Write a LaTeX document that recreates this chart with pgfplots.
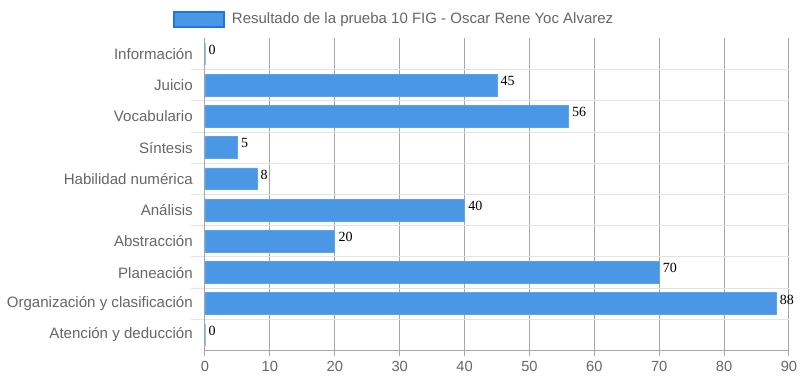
\documentclass[border=0pt]{standalone}
\usepackage{pgfplots}
\pgfplotsset{compat=1.18}
\usepackage{fontspec}
\setmainfont{Liberation Sans}
\newfontfamily\serifvals{Liberation Serif}
\definecolor{barblue}{HTML}{4A97E6}
\definecolor{baredge}{HTML}{5DA3EA}
\definecolor{legedge}{HTML}{1F75DD}
\definecolor{txtgrey}{HTML}{666666}
\definecolor{vgrid}{HTML}{A6A6A6}
\definecolor{hgrid}{HTML}{E3E3E3}
\begin{document}
\begin{tikzpicture}[x=1pt,y=1pt]
\useasboundingbox (-153.75,-26.55) rectangle (446.25,262.95);
\begin{axis}[
  at={(0,0)}, anchor=south west,
  scale only axis, width=438pt, height=234.15pt,
  xmin=0, xmax=90, ymin=-0.5, ymax=9.5, y dir=reverse,
  xtick={0,10,...,90},
  ytick={0,...,9},
  yticklabels={Información,Juicio,Vocabulario,Síntesis,Habilidad numérica,Análisis,Abstracción,Planeación,Organización y clasificación,Atención y deducción},
  minor ytick={0.5,1.5,...,8.5},
  xmajorgrids, yminorgrids,
  major grid style={vgrid, line width=0.75pt},
  minor grid style={hgrid, line width=0.75pt},
  axis x line*=bottom, axis y line*=left,
  axis line style={vgrid, line width=0.75pt, -},
  tick align=outside, major tick length=3.75pt, minor tick length=10.5pt,
  x tick style={vgrid, line width=0.75pt},
  y tick style={draw=none},
  minor y tick style={draw=hgrid, line width=0.75pt},
  tick label style={text=txtgrey, font=\fontsize{11}{13}\selectfont},
  yticklabel style={inner sep=0pt, xshift=-5.25pt, font=\fontsize{11.3}{13}\selectfont},
  xticklabel style={inner sep=0pt, yshift=-4pt},
  /pgf/number format/assume math mode=true,
  xbar, bar width=0.7,
  nodes near coords,
  nodes near coords style={font=\serifvals\fontsize{10.5}{12}\selectfont, text=black, inner sep=0pt, anchor=west, xshift=2.5pt, yshift=3.2pt},
  legend image code/.code={\draw[fill=barblue, draw=legedge, line width=1.5pt] (0.75pt,-5.6pt) rectangle (38.25pt,5.6pt);},
  legend style={at={(axis description cs:0,1)}, anchor=west, xshift=-24pt, yshift=14.4pt, draw=none, fill=none, inner sep=0pt, column sep=5pt, font=\fontsize{11.25}{13}\selectfont, text=txtgrey, nodes={inner sep=0pt}},
  clip=false,
]
\addplot[fill=barblue, draw=baredge, line width=0.6pt] coordinates {
  (0,0) (45,1) (56,2) (5,3) (8,4) (40,5) (20,6) (70,7) (88,8) (0,9)
};
\addlegendentry{Resultado de la prueba 10 FIG - Oscar Rene Yoc Alvarez}
\end{axis}
\end{tikzpicture}
\end{document}
